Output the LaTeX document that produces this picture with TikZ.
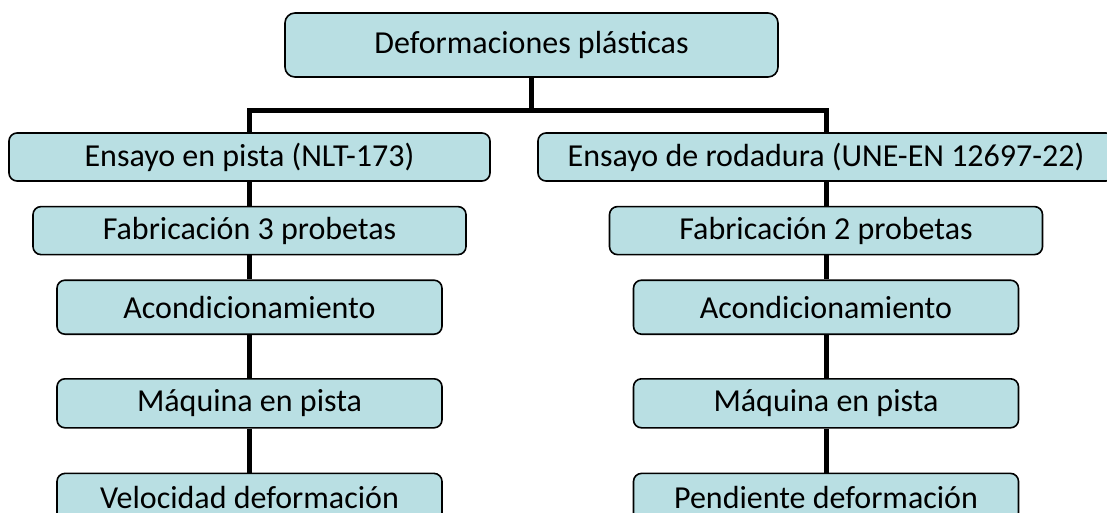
\documentclass[tikz,border=0pt]{standalone}
\usepackage{fontspec}
\setmainfont{Carlito}
\usetikzlibrary{positioning}
\definecolor{boxblue}{RGB}{185,223,227}

\begin{document}
\begin{tikzpicture}[x=1pt, y=-1pt, node distance={24pt},
        main/.style = {draw=black, line width=1.6pt, fill=boxblue, rounded corners=8pt, inner sep=0pt, font=\fontsize{32}{38}\selectfont},
        link/.style = {line width=5pt, line join=miter}]
    \useasboundingbox (0,0) rectangle (1107,512);
    \clip (0,0) rectangle (1107,512);

    \node[main, minimum width=493pt, minimum height=64pt, rounded corners=10pt] (1) at (531.5,45) {Deformaciones plásticas};
    \node[main, minimum width=481pt, minimum height=48pt] (2) at (249.5,157) {Ensayo en pista (NLT-173)};
    \node[main, minimum width=576pt, minimum height=48pt] (3) at (826,157) {Ensayo de rodadura (UNE-EN 12697-22)};
    \node[main, minimum width=433pt, minimum height=48pt] (4) [below=of 2] {Fabricación 3 probetas};
    \node[main, minimum width=433pt, minimum height=48pt] (5) [below=of 3] {Fabricación 2 probetas};
    \node[main, minimum width=385pt, minimum height=54pt] (6) [below=of 4] {Acondicionamiento};
    \node[main, minimum width=385pt, minimum height=54pt] (7) [below=of 5] {Acondicionamiento};
    \node[main, minimum width=385pt, minimum height=49pt] (8) [below=43pt of 6] {Máquina en pista};
    \node[main, minimum width=385pt, minimum height=49pt] (9) [below=43pt of 7] {Máquina en pista};
    \node[main, minimum width=385pt, minimum height=49pt] (10) [below=44pt of 8] {Velocidad deformación};
    \node[main, minimum width=385pt, minimum height=49pt] (11) [below=44pt of 9] {Pendiente deformación};

    \coordinate (bar) at (531.5,110);
    \draw[link] (1) -- (bar);
    \draw[link] (2) -- (2 |- bar) -- (3 |- bar) -- (3);
    \draw[link] (2) -- (4);
    \draw[link] (4) -- (6);
    \draw[link] (6) -- (8);
    \draw[link] (8) -- (10);
    \draw[link] (3) -- (5);
    \draw[link] (5) -- (7);
    \draw[link] (7) -- (9);
    \draw[link] (9) -- (11);
\end{tikzpicture}
\end{document}
